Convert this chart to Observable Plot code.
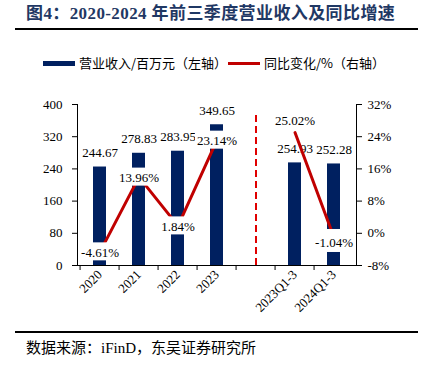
<!DOCTYPE html>
<html>
<head>
<meta charset="utf-8">
<script src="https://cdn.jsdelivr.net/npm/d3@7"></script>
<script src="https://cdn.jsdelivr.net/npm/@observablehq/plot@0.6"></script>
<style>
  html, body { margin: 0; padding: 0; background: #fff; }
  body { width: 421px; height: 371px; position: relative; overflow: hidden;
         font-family: "Liberation Serif", "Noto Sans CJK SC", serif; color: #000; }
  .abs { position: absolute; white-space: nowrap; }
  #title { left: 26px; top: 4px; font-size: 17px; line-height: 20px; letter-spacing: 0.4px; font-weight: bold; color: #1f3864; }
  #rule1 { left: 15px; top: 28px; width: 403px; height: 2px; background: #000; }
  #rule2 { left: 15px; top: 331px; width: 403px; height: 1.5px; background: #000; }
  #source { left: 26px; top: 339px; font-size: 15px; line-height: 18px; }
  .leg { font-size: 13px; line-height: 16px; top: 55px; font-family: "Noto Sans CJK SC", sans-serif; }
  #chart { left: 0; top: 80px; }
</style>
</head>
<body>
<div id="title" class="abs">图4：2020-2024 年前三季度营业收入及同比增速</div>
<div id="rule1" class="abs"></div>
<div class="abs" style="left:43px;top:61px;width:32px;height:5px;background:#002060"></div>
<div class="abs leg" style="left:79px">营业收入/百万元（左轴）</div>
<div class="abs" style="left:228px;top:62px;width:32px;height:3px;background:#c00000"></div>
<div class="abs leg" style="left:264px">同比变化/%（右轴）</div>
<div id="chart" class="abs"></div>
<div id="rule2" class="abs"></div>
<div id="source" class="abs">数据来源：iFinD，东吴证券研究所</div>
<script>
// ---- data ----
const categories = ["2020", "2021", "2022", "2023", " ", "2023Q1-3", "2024Q1-3"];
const revenue = [244.67, 278.83, 283.95, 349.65, null, 254.93, 252.28];   // 百万元 (left axis)
const growth = [-4.61, 13.96, 1.84, 23.14, null, 25.02, -1.04];          // % (right axis)
const leftTicks = [0, 80, 160, 240, 320, 400];
const rightTicks = [-8, 0, 8, 16, 24, 32];
const dividerCategory = " ";
const dividerTop = 373; // in left-axis units

// right axis (-8%..32%) mapped onto left axis (0..400)
const toLeft = p => (p + 8) * 10;
const fromLeft = v => v / 10 - 8;

const rows = categories.map((c, i) => ({cat: c, rev: revenue[i], g: growth[i], i}));
const revRows = rows.filter(d => d.rev != null);
const gRows = rows.filter(d => d.g != null);
const centerLabels = gRows.filter(d => d.i <= 3);
const aboveLabels = gRows.filter(d => d.cat === "2023Q1-3");
const belowLabels = gRows.filter(d => d.cat === "2024Q1-3");
const pct = d => d.g.toFixed(2) + "%";

const chart = Plot.plot({
  width: 421,
  height: 250,
  marginLeft: 77,
  marginRight: 65,
  marginTop: 24,
  marginBottom: 65,
  style: {fontFamily: "Liberation Serif, serif", fontSize: "13px", color: "#000", background: "transparent"},
  x: {domain: categories, padding: 0},
  y: {domain: [0, 400]},
  marks: [
    Plot.barY(revRows, {x: "cat", y: "rev", fill: "#002060", insetLeft: 13, insetRight: 13}),
    Plot.text(revRows, {x: "cat", y: "rev", text: d => d.rev.toFixed(2), dy: -14, fontSize: 13, fill: "#000"}),
    Plot.ruleX([dividerCategory], {x: d => d, y1: 0, y2: dividerTop, stroke: "#e00000", strokeWidth: 2, strokeDasharray: "7,4"}),
    Plot.line(rows, {x: "cat", y: d => d.g == null ? NaN : toLeft(d.g), stroke: "#c00000", strokeWidth: 3}),
    // white label boxes
    Plot.barY(centerLabels, {x: "cat", y1: d => toLeft(d.g), y2: d => toLeft(d.g), fill: "#fff", insetTop: -9, insetBottom: -9, insetLeft: -2, insetRight: -2}),
    Plot.barY(belowLabels, {x: "cat", y1: d => toLeft(d.g), y2: d => toLeft(d.g), fill: "#fff", insetTop: -8, insetBottom: -15, insetLeft: -2, insetRight: -2}),
    Plot.text(centerLabels, {x: "cat", y: d => toLeft(d.g), text: pct, dy: 1, fontSize: 13, fill: "#000"}),
    Plot.text(aboveLabels, {x: "cat", y: d => toLeft(d.g), text: pct, dy: -12, fontSize: 13, fill: "#000"}),
    Plot.text(belowLabels, {x: "cat", y: d => toLeft(d.g), text: pct, dy: 5, fontSize: 13, fill: "#000"}),
    Plot.ruleY([0], {stroke: "#000", strokeWidth: 1}),
    Plot.frame({anchor: "left", stroke: "#000"}),
    Plot.frame({anchor: "right", stroke: "#000"}),
    Plot.axisY(leftTicks, {anchor: "left", tickSize: 5, tickPadding: 10, fontSize: 13, label: null, tickFormat: d => d}),
    Plot.axisY(rightTicks.map(toLeft), {anchor: "right", tickSize: 5, tickPadding: 6, fontSize: 13, label: null, tickFormat: d => fromLeft(d) + "%"}),
    Plot.axisX({tickSize: 5, tickFormat: () => "", dx: -279 / 14, label: null}),
    Plot.axisX({tickSize: 0, tickPadding: 7, tickRotate: -45, fontSize: 13, label: null, tickFormat: d => d.trim()})
  ]
});
document.getElementById("chart").appendChild(chart);
</script>
</body>
</html>
